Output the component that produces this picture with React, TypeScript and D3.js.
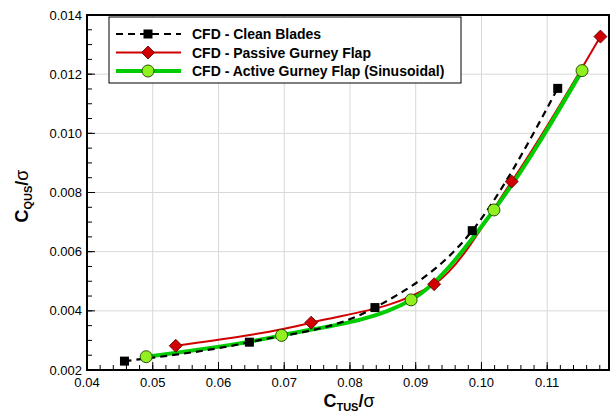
import React from 'react';
import * as d3 from 'd3';

const cleanX = [0.0457, 0.0647, 0.0838, 0.0986, 0.1116];
const cleanY = [0.0023, 0.00294, 0.00411, 0.00671, 0.01152];
const passiveX = [0.0535, 0.0741, 0.0928, 0.1046, 0.1181];
const passiveY = [0.00282, 0.0036, 0.0049, 0.00837, 0.01327];
const activeX = [0.049, 0.0696, 0.0893, 0.1019, 0.1153];
const activeY = [0.00245, 0.00317, 0.00437, 0.00741, 0.01212];

const xTicks = [0.04, 0.05, 0.06, 0.07, 0.08, 0.09, 0.1, 0.11];
const yTicks = [0.002, 0.004, 0.006, 0.008, 0.01, 0.012, 0.014];
const legendLabels = [
  'CFD - Clean Blades',
  'CFD - Passive Gurney Flap',
  'CFD - Active Gurney Flap (Sinusoidal)',
];

const W = 614;
const H = 415;
const L = 87, R = 609, T = 15, B = 370;
const FONT = '"Liberation Sans", Arial, sans-serif';

const RED = '#d00000';
const GREEN = '#00cc00';
const CIRCLE = '#90f020';

export default function App() {
  const x = d3.scaleLinear().domain([0.04, 0.1194]).range([L, R]);
  const y = d3.scaleLinear().domain([0.002, 0.014]).range([B, T]);

  const xMinor = d3.range(0.04, 0.1195, 0.002).filter((v) => x(v) <= R);
  const yMinor = d3.range(0.002, 0.01401, 0.0005);

  const line = d3
    .line<[number, number]>()
    .x((d) => x(d[0]))
    .y((d) => y(d[1]))
    .curve(d3.curveMonotoneX);

  const clean = cleanX.map((v, i) => [v, cleanY[i]] as [number, number]);
  const passive = passiveX.map((v, i) => [v, passiveY[i]] as [number, number]);
  const active = activeX.map((v, i) => [v, activeY[i]] as [number, number]);

  const square = (cx: number, cy: number, k: string) => (
    <rect key={k} x={cx - 4.5} y={cy - 4.5} width={9} height={9} fill="#000" />
  );
  const diamond = (cx: number, cy: number, k: string) => (
    <path
      key={k}
      d={`M${cx},${cy - 6.5}L${cx + 6.5},${cy}L${cx},${cy + 6.5}L${cx - 6.5},${cy}Z`}
      fill={RED}
      stroke="#500000"
      strokeWidth={0.8}
    />
  );
  const circle = (cx: number, cy: number, k: string) => (
    <circle key={k} cx={cx} cy={cy} r={6} fill={CIRCLE} stroke="#204000" strokeWidth={0.9} />
  );

  const legX0 = 116, legX1 = 181, legMid = 148, legText = 192;
  const legRows = [34, 52.5, 71];

  return (
    <svg
      width={W}
      height={H}
      style={{ position: 'absolute', left: 0, top: 0, background: '#fff' }}
      fontFamily={FONT}
    >
      <rect x={0} y={0} width={W} height={H} fill="#fff" />
      {/* grid */}
      {xTicks.slice(1).map((t) => (
        <line key={'gx' + t} x1={x(t)} x2={x(t)} y1={T} y2={B} stroke="#d8d8d8" strokeWidth={1} />
      ))}
      {yTicks.slice(1, -1).map((t) => (
        <line key={'gy' + t} x1={L} x2={R} y1={y(t)} y2={y(t)} stroke="#d8d8d8" strokeWidth={1} />
      ))}
      {/* minor ticks */}
      {xMinor.map((t, i) => (
        <line key={'xm' + i} x1={x(t)} x2={x(t)} y1={B} y2={B - 5} stroke="#000" strokeWidth={1} />
      ))}
      {yMinor.map((t, i) => (
        <line key={'ym' + i} x1={L} x2={L + 5} y1={y(t)} y2={y(t)} stroke="#000" strokeWidth={1} />
      ))}
      {xTicks.map((t) => (
        <line key={'xM' + t} x1={x(t)} x2={x(t)} y1={B} y2={B - 8} stroke="#000" strokeWidth={1} />
      ))}
      {yTicks.map((t) => (
        <line key={'yM' + t} x1={L} x2={L + 8} y1={y(t)} y2={y(t)} stroke="#000" strokeWidth={1} />
      ))}
      {/* tick labels */}
      {xTicks.map((t) => (
        <text key={'xl' + t} x={x(t)} y={B + 17} textAnchor="middle" fontSize={13} fill="#000">
          {d3.format('.2f')(t)}
        </text>
      ))}
      {yTicks.map((t) => (
        <text key={'yl' + t} x={L - 5} y={y(t) + 4.5} textAnchor="end" fontSize={13} fill="#000">
          {d3.format('.3f')(t)}
        </text>
      ))}
      {/* lines */}
      <path d={line(passive) || ''} fill="none" stroke={RED} strokeWidth={2} />
      <path d={line(active) || ''} fill="none" stroke={GREEN} strokeWidth={4} />
      <path d={line(clean) || ''} fill="none" stroke="#000" strokeWidth={2.2} strokeDasharray="7,5" />
      {/* markers */}
      {clean.map((d, i) => square(x(d[0]), y(d[1]), 'c' + i))}
      {passive.map((d, i) => diamond(x(d[0]), y(d[1]), 'p' + i))}
      {active.map((d, i) => circle(x(d[0]), y(d[1]), 'a' + i))}
      {/* frame */}
      <rect x={L} y={T} width={R - L} height={B - T} fill="none" stroke="#000" strokeWidth={2} />
      {/* legend */}
      <rect x={109} y={17} width={352} height={66} fill="#fff" stroke="#000" strokeWidth={1} />
      <line x1={legX0} x2={legX1} y1={legRows[0]} y2={legRows[0]} stroke="#000" strokeWidth={2.2} strokeDasharray="7,5" />
      {square(legMid, legRows[0], 'lc')}
      <line x1={legX0} x2={legX1} y1={legRows[1]} y2={legRows[1]} stroke={RED} strokeWidth={2} />
      {diamond(legMid, legRows[1], 'lp')}
      <line x1={legX0} x2={legX1} y1={legRows[2]} y2={legRows[2]} stroke={GREEN} strokeWidth={4} />
      {circle(legMid, legRows[2], 'la')}
      {legendLabels.map((s, i) => (
        <text key={s} x={legText} y={legRows[i] + 5} fontSize={14} fontWeight="bold" fill="#000">
          {s}
        </text>
      ))}
      {/* axis titles */}
      <text x={349} y={407} textAnchor="middle" fontSize={18} fontWeight="bold" fill="#000">
        C<tspan fontSize={11} dy={4}>TUS</tspan>
        <tspan dy={-4}>/</tspan>
        <tspan fontWeight="normal">σ</tspan>
      </text>
      <text
        transform="translate(28,196) rotate(-90)"
        textAnchor="middle"
        fontSize={18}
        fontWeight="bold"
        fill="#000"
      >
        C<tspan fontSize={11} dy={4}>QUS</tspan>
        <tspan dy={-4}>/</tspan>
        <tspan fontWeight="normal">σ</tspan>
      </text>
    </svg>
  );
}
